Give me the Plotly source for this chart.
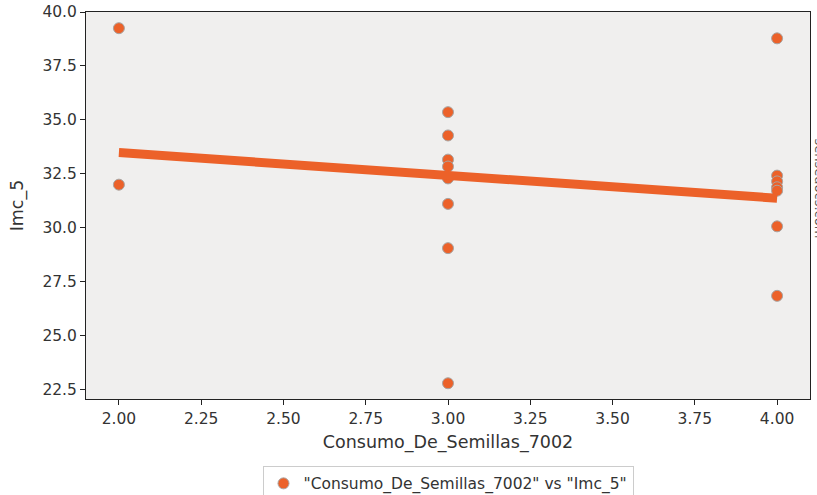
import numpy as np
import plotly.graph_objects as go

# Data
consumo = [2, 2,
           3, 3, 3, 3, 3, 3, 3, 3,
           4, 4, 4, 4, 4, 4, 4]
imc = [39.25, 32.0,
       35.36, 34.28, 33.16, 32.84, 32.29, 31.11, 29.06, 22.8,
       38.78, 32.42, 32.15, 31.88, 31.72, 30.07, 26.85]

x_ticks = [2.0, 2.25, 2.5, 2.75, 3.0, 3.25, 3.5, 3.75, 4.0]
y_ticks = [22.5, 25.0, 27.5, 30.0, 32.5, 35.0, 37.5, 40.0]

ORANGE = "#EC6129"
FONT = "DejaVu Sans"

# Regression line from data
slope, intercept = np.polyfit(consumo, imc, 1)
x_line = np.array([min(consumo), max(consumo)], dtype=float)
y_line = slope * x_line + intercept

fig = go.Figure()
fig.add_trace(go.Scatter(
    x=consumo, y=imc, mode="markers",
    name='"Consumo_De_Semillas_7002" vs "Imc_5"',
    marker=dict(size=11, color=ORANGE, line=dict(color="#A9A3A0", width=1)),
))
fig.add_trace(go.Scatter(
    x=x_line, y=y_line, mode="lines", showlegend=False,
    line=dict(color=ORANGE, width=9),
))

axis_common = dict(
    showgrid=False, zeroline=False, showline=True, linecolor="#222222",
    linewidth=1, mirror=True, ticks="outside", ticklen=5, tickcolor="#222222",
    tickfont=dict(family=FONT, size=15.5, color="#333333"),
    automargin=False,
)

fig.update_layout(
    width=817, height=495,
    margin=dict(l=86, r=7, t=12, b=96),
    paper_bgcolor="white",
    plot_bgcolor="#F0EFEE",
    font=dict(family=FONT, color="#333333"),
    xaxis=dict(
        range=[1.9, 4.1], tickvals=x_ticks,
        ticktext=[f"{v:.2f}" for v in x_ticks],
        title=dict(text="Consumo_De_Semillas_7002", font=dict(family=FONT, size=17.5, color="#333333"), standoff=9),
        **axis_common,
    ),
    yaxis=dict(
        range=[22.07, 40.0], tickvals=y_ticks,
        ticktext=[f"{v:.1f}" for v in y_ticks],
        title=dict(text="Imc_5", font=dict(family=FONT, size=17.5, color="#333333"), standoff=14),
        **axis_common,
    ),
    legend=dict(
        orientation="h", x=0.5, xanchor="center",
        yref="container", y=0.059, yanchor="top",
        bordercolor="#CCCCCC", borderwidth=1,
        font=dict(family=FONT, size=15.5, color="#333333"),
    ),
    annotations=[dict(
        text="sensedocs.com", xref="paper", yref="paper", x=1.0, y=0.545,
        xanchor="left", yanchor="middle", textangle=90, showarrow=False,
        font=dict(family=FONT, size=13, color="#555555"),
    )],
)

fig.write_html(
    "out.html",
    config={"displayModeBar": False},
    post_script="document.body.style.margin='0px';document.body.style.overflow='hidden';",
)
